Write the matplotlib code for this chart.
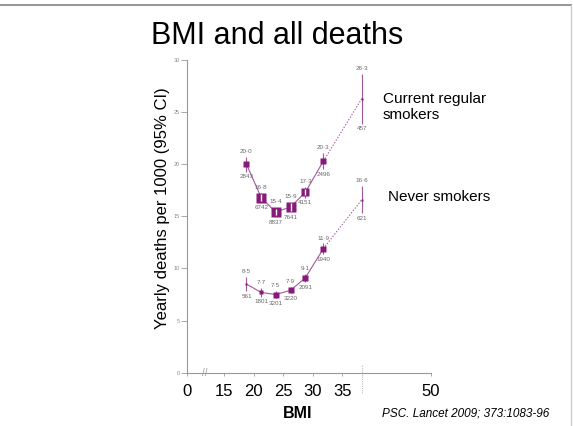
import matplotlib
matplotlib.use("Agg")
import matplotlib.pyplot as plt
from matplotlib.lines import Line2D
import numpy as np

### BMI vs yearly deaths, PSC Lancet 2009 slide

# mean BMI of each group (x position of each point)
bmi = [18.8, 21.3, 23.75, 26.25, 28.75, 31.8, 38.3]

# current regular smokers
smk_rate = [20.0, 16.8, 15.4, 15.9, 17.3, 20.3, 26.3]
smk_lo = [19.3, 16.4, 15.1, 15.5, 16.8, 19.5, 23.9]
smk_hi = [20.7, 17.2, 15.7, 16.3, 17.8, 21.1, 28.7]
smk_deaths = [2843, 6742, 8837, 7641, 4151, 2496, 457]

# never smokers
nev_rate = [8.5, 7.7, 7.5, 7.9, 9.1, 11.9, 16.6]
nev_lo = [7.8, 7.3, 7.2, 7.6, 8.7, 11.4, 15.3]
nev_hi = [9.2, 8.1, 7.8, 8.2, 9.5, 12.4, 17.9]
nev_deaths = [561, 1801, 3201, 3220, 2091, 1940, 621]

xtick_pos = [8.75, 15, 20, 25, 30, 35, 50]
xtick_lab = ['0', '15', '20', '25', '30', '35', '50']
ytick_pos = [0, 5, 10, 15, 20, 25, 30]

PURPLE = '#87197a'
LINE = '#a4589c'
GRAY = '#999999'
SLIDE_FONT = ['Liberation Sans', 'DejaVu Sans']
SMALL_FONT = ['Liberation Sans Narrow', 'Liberation Sans', 'DejaVu Sans']

plt.rcParams['font.family'] = SLIDE_FONT

W, H = 573, 426
fig = plt.figure(figsize=(W / 100, H / 100), dpi=100)
ax = fig.add_axes([187 / W, 1 - 372.7 / H, 244 / W, 312.7 / H])
ax.set_xlim(8.75, 50)
ax.set_ylim(0, 30)

px_per_unit = 312.7 / 30


def draw_group(rate, lo, hi, deaths):
    ax.plot(bmi[:-1], rate[:-1], color=LINE, lw=0.8, zorder=2)
    ax.plot(bmi[-2:], rate[-2:], color=LINE, lw=0.8, ls=(0, (1.2, 1.5)), zorder=2)
    for x, r, l, h, d in zip(bmi, rate, lo, hi, deaths):
        side = 0.117 * np.sqrt(d)
        half = side / 2 / px_per_unit
        ax.vlines(x, l, h, color=LINE, lw=0.8, zorder=3)
        ax.plot(x, r, marker='s', ms=side * 0.72, color=PURPLE, mec='none', zorder=4)
        if side > 7:
            ax.vlines(x, max(l, r - half * 0.8), min(h, r + half * 0.8),
                      color='white', lw=1.0, zorder=5)
        ax.annotate(('%.1f' % r).replace('.', '\u00b7'), (x, max(h, r + half)),
                    xytext=(0, 2), textcoords='offset points', ha='center', va='bottom',
                    fontsize=4.5, color='#666666', family=SMALL_FONT)
        ax.annotate(str(d), (x, min(l, r - half)),
                    xytext=(0, -2), textcoords='offset points', ha='center', va='top',
                    fontsize=4.5, color='#666666', family=SMALL_FONT)


draw_group(smk_rate, smk_lo, smk_hi, smk_deaths)
draw_group(nev_rate, nev_lo, nev_hi, nev_deaths)

# axes styling
for s in ['top', 'right']:
    ax.spines[s].set_visible(False)
for s in ['left', 'bottom']:
    ax.spines[s].set_color(GRAY)
    ax.spines[s].set_linewidth(0.8)

ax.set_yticks(ytick_pos)
ax.tick_params(axis='y', labelsize=4, labelcolor='#888888', color=GRAY,
               length=4, width=0.6, pad=1)
ax.set_xticks(xtick_pos)
ax.set_xticklabels(xtick_lab)
ax.tick_params(axis='x', labelsize=12, color=GRAY, length=2, width=0.6, pad=6)

# axis break mark and the dotted marker under the last group
ax.text(11.7, 0, '//', fontsize=7, color=GRAY, ha='center', va='center')
ax.axvline(bmi[-1], ymin=-0.065, ymax=0.025, color='#bbbbbb', lw=0.8,
           ls=(0, (1, 1)), clip_on=False)

# slide texts
fig.text(277 / W, 1 - 36 / H, 'BMI and all deaths', fontsize=22, ha='center', va='center')
fig.text(163 / W, 1 - 208 / H, 'Yearly deaths per 1000 (95% CI)', fontsize=12,
         rotation=90, ha='center', va='center')
fig.text(298 / W, 1 - 413 / H, 'BMI', fontsize=11.5, fontweight='bold',
         ha='center', va='center')
fig.text(382 / W, 1 - 413 / H, 'PSC. Lancet 2009; 373:1083-96', fontsize=8.5,
         style='italic', ha='left', va='center')
fig.text(383 / W, 1 - 107 / H, 'Current regular\nsmokers', fontsize=11,
         ha='left', va='center', linespacing=1.25)
fig.text(388 / W, 1 - 197 / H, 'Never smokers', fontsize=11, ha='left', va='center')

# slide frame
fig.add_artist(Line2D([0, 571 / W], [1 - 5 / H, 1 - 5 / H], color=GRAY, lw=1.5))
fig.add_artist(Line2D([571 / W, 571 / W], [0, 1 - 5 / H], color='#cccccc', lw=1))

fig.savefig('out.png', dpi=100)
